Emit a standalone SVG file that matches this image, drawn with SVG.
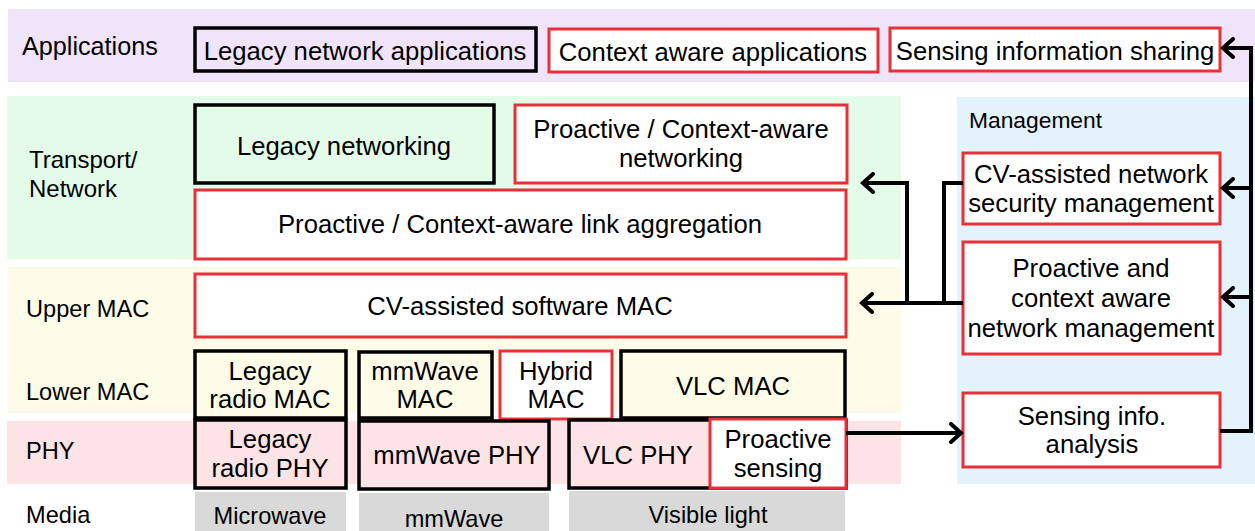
<svg xmlns="http://www.w3.org/2000/svg" width="1255" height="531" viewBox="0 0 1255 531">
<style>
text{font-family:"Liberation Sans",Arial,sans-serif;fill:#000}
.t{font-size:25.7px;text-anchor:middle}
.s{font-size:23.6px}
.m{font-size:23.6px;text-anchor:middle}
.blk{stroke:#000;stroke-width:3.5}
.red{stroke:#e8303a;stroke-width:3;fill:#fff}
.con{fill:none;stroke:#000;stroke-width:4}
.arr{marker-end:url(#ah)}
</style>
<defs>
<marker id="ah" viewBox="0 0 16 22" refX="13" refY="11" markerWidth="16" markerHeight="22" orient="auto" markerUnits="userSpaceOnUse">
<path d="M3,2 L13,11 L3,20" fill="none" stroke="#000" stroke-width="4" stroke-linecap="round"/>
</marker>
</defs>
<g id="bands">
<rect x="8" y="9" width="1247" height="73" fill="#f0e4fa"/>
<rect x="7" y="96" width="894" height="163" fill="#e3fbe8"/>
<rect x="7" y="267" width="894" height="146" fill="#fcfce8"/>
<rect x="7" y="421" width="894" height="63" fill="#fce4e6"/>
<rect x="957" y="97" width="298" height="387" fill="#e3f2fb"/>
</g>
<g id="layer-labels">
<text class="s" x="22" y="55" style="font-size:25.2px">Applications</text>
<text class="s" x="29" y="168" style="font-size:24px">Transport/</text>
<text class="s" x="29" y="197" style="font-size:24px">Network</text>
<text class="s" x="26" y="317">Upper MAC</text>
<text class="s" x="26" y="400">Lower MAC</text>
<text class="s" x="26" y="459">PHY</text>
<text class="s" x="26" y="523">Media</text>
<text class="s" x="969" y="128" style="font-size:22.8px">Management</text>
</g>
<g id="legacy-net-apps"><rect class="blk" x="195" y="28" width="341" height="43" fill="#f0e4fa"/><text class="t" x="365" y="60">Legacy network applications</text></g>
<g id="context-apps"><rect class="red" x="549" y="29" width="329" height="43"/><text class="t" x="713" y="61">Context aware applications</text></g>
<g id="sensing-sharing"><rect class="red" x="890" y="28" width="330" height="43"/><text class="t" x="1055" y="60">Sensing information sharing</text></g>
<g id="legacy-networking"><rect class="blk" x="195" y="105" width="299" height="78" fill="#e3fbe8"/><text class="t" x="344" y="155">Legacy networking</text></g>
<g id="proactive-networking"><rect class="red" x="515" y="105" width="332" height="78"/><text class="t" x="681" y="138">Proactive / Context-aware</text><text class="t" x="681" y="167">networking</text></g>
<g id="link-aggregation"><rect class="red" x="195" y="190" width="651" height="69"/><text class="t" x="520" y="233">Proactive / Context-aware link aggregation</text></g>
<g id="sw-mac"><rect class="red" x="195" y="274" width="651" height="63"/><text class="t" x="520" y="315">CV-assisted software MAC</text></g>
<g id="legacy-radio-mac"><rect class="blk" x="195" y="351" width="151" height="67" fill="#fcfce8"/><text class="t" x="270" y="380">Legacy</text><text class="t" x="270" y="408">radio MAC</text></g>
<g id="mmwave-mac"><rect class="blk" x="359" y="352" width="133" height="66" fill="#fcfce8"/><text class="t" x="425" y="380">mmWave</text><text class="t" x="425" y="408">MAC</text></g>
<g id="hybrid-mac"><rect class="red" x="500" y="351" width="112" height="68"/><text class="t" x="556" y="380">Hybrid</text><text class="t" x="556" y="408">MAC</text></g>
<g id="vlc-mac"><rect class="blk" x="621" y="351" width="224" height="67" fill="#fcfce8"/><text class="t" x="733" y="395">VLC MAC</text></g>
<g id="legacy-radio-phy"><rect class="blk" x="195" y="420" width="151" height="68" fill="#fce4e6"/><text class="t" x="270" y="448">Legacy</text><text class="t" x="270" y="477">radio PHY</text></g>
<g id="mmwave-phy"><rect class="blk" x="359" y="421" width="190" height="68" fill="#fce4e6"/><text class="t" x="457" y="464">mmWave PHY</text></g>
<g id="vlc-phy"><rect class="blk" x="569" y="420" width="277" height="68" fill="#fce4e6"/><text class="t" x="638" y="464">VLC PHY</text></g>
<g id="proactive-sensing"><rect class="red" x="710" y="419" width="136" height="69"/><text class="t" x="778" y="448">Proactive</text><text class="t" x="778" y="477">sensing</text></g>
<g id="media-microwave"><rect x="195" y="492" width="151" height="39" fill="#d9d9d9"/><text class="m" x="270" y="524">Microwave</text></g>
<g id="media-mmwave"><rect x="359" y="493" width="190" height="38" fill="#d9d9d9"/><text class="m" x="454" y="527">mmWave</text></g>
<g id="media-visible"><rect x="569" y="491" width="276" height="40" fill="#d9d9d9"/><text class="m" x="708" y="523">Visible light</text></g>
<g id="cv-security"><rect class="red" x="963" y="153" width="257" height="71"/><text class="t" x="1091" y="183">CV-assisted network</text><text class="t" x="1091" y="212">security management</text></g>
<g id="proactive-mgmt"><rect class="red" x="963" y="242" width="257" height="112"/><text class="t" x="1091" y="277">Proactive and</text><text class="t" x="1091" y="307">context aware</text><text class="t" x="1091" y="337">network management</text></g>
<g id="sensing-analysis"><rect class="red" x="963" y="393" width="257" height="74"/><text class="t" x="1092" y="425">Sensing info.</text><text class="t" x="1092" y="453">analysis</text></g>
<g id="connectors">
<path class="con arr" d="M846,433 H961"/>
<path class="con" d="M1220,431 H1251 V46"/>
<path class="con arr" d="M1251,48 H1223"/>
<path class="con arr" d="M1251,188 H1223"/>
<path class="con arr" d="M1251,297 H1223"/>
<path class="con" d="M963,183 H944 V303"/>
<path class="con arr" d="M963,303 H862"/>
<path class="con arr" d="M907,303 V183 H863"/>
</g>
</svg>
